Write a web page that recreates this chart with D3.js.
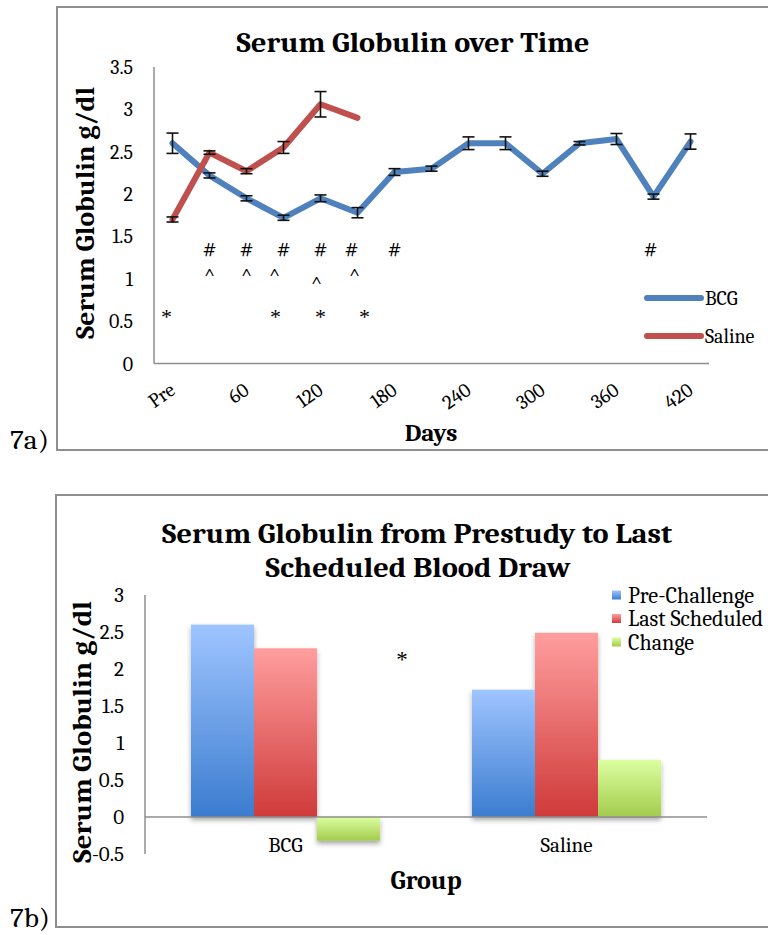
<!DOCTYPE html>
<html><head><meta charset="utf-8">
<script src="https://cdn.jsdelivr.net/npm/d3@7"></script>
<style>
html,body{margin:0;padding:0;background:#fff;}
svg{display:block;}
</style></head>
<body>
<svg id="c" width="768" height="935"></svg>
<script>
// ---------- Data: Figure 7a ----------
const days = ["Pre","30","60","90","120","150","180","210","240","270","300","330","360","390","420"];
const dayTickLabels = ["Pre","60","120","180","240","300","360","420"];
const bcgMean = [2.6,2.22,1.95,1.72,1.95,1.78,2.26,2.3,2.6,2.6,2.24,2.6,2.65,1.97,2.62];
const bcgErr  = [0.12,0.03,0.03,0.03,0.04,0.06,0.04,0.03,0.075,0.075,0.03,0.02,0.065,0.03,0.09];
const salineMean = [1.7,2.49,2.27,2.55,3.06,2.9];
const salineErr  = [0.03,0.02,0.03,0.07,0.15,0];
const yTicksA = [0,0.5,1,1.5,2,2.5,3,3.5];
const hashDays  = ["30","60","90","120","150","180","390"];
const caretDays = ["30","60","90","120","150"];
const starDays  = ["Pre","90","120","150"];

// ---------- Data: Figure 7b ----------
const groups = ["BCG","Saline"];
const barSeries = ["Pre-Challenge","Last Scheduled","Change"];
const preChallenge = [2.6,1.72];
const lastScheduled = [2.28,2.49];
const changeVals = [-0.32,0.77];
const yTicksB = [-0.5,0,0.5,1,1.5,2,2.5,3];

const FONT = "Cambria, Caladea, 'Liberation Serif', serif";
const STARFONT = "'Liberation Serif', serif";
const svg = d3.select("#c").attr("font-family",FONT);
const gray = "#8e8e8e";
const BLUE = "#4f81bd", RED = "#c0504d";

// ---------- Frames ----------
svg.append("path").attr("d","M800,7 H57 V450 H800").attr("fill","none").attr("stroke",gray).attr("stroke-width",2);
svg.append("path").attr("d","M800,495 H56 V927 H800").attr("fill","none").attr("stroke",gray).attr("stroke-width",2);
svg.append("text").attr("x",10).attr("y",449).attr("font-size",26)
  .attr("textLength",39).attr("lengthAdjust","spacingAndGlyphs").text("7a)");
svg.append("text").attr("x",10).attr("y",927).attr("font-size",26)
  .attr("textLength",40).attr("lengthAdjust","spacingAndGlyphs").text("7b)");

// ================= Chart A =================
const xA = d3.scalePoint().domain(days).range([154,709]).padding(0.5);
const yA = d3.scaleLinear().domain([0,3.5]).range([363.5,67]);

svg.append("text").attr("x",413).attr("y",52).attr("text-anchor","middle")
  .attr("font-size",28).attr("font-weight","bold")
  .attr("textLength",353).attr("lengthAdjust","spacingAndGlyphs").text("Serum Globulin over Time");

const gA = svg.append("g");
gA.append("line").attr("x1",154).attr("x2",154).attr("y1",yA(3.5)).attr("y2",yA(0)).attr("stroke",gray).attr("stroke-width",1.5);
gA.append("line").attr("x1",154).attr("x2",709).attr("y1",yA(0)).attr("y2",yA(0)).attr("stroke",gray).attr("stroke-width",1.5);
gA.selectAll("text.yt").data(yTicksA).join("text").attr("class","yt")
  .attr("x",133).attr("y",d=>yA(d)).attr("dy","0.35em").attr("text-anchor","end")
  .attr("font-size",20).text(d=>d);
gA.selectAll("text.xt").data(dayTickLabels).join("text").attr("class","xt")
  .attr("transform",d=>`translate(${xA(d)+4},393) rotate(-35)`)
  .attr("text-anchor","end").attr("font-size",20).text(d=>d);
svg.append("text").attr("x",431).attr("y",441).attr("text-anchor","middle")
  .attr("font-size",25).attr("font-weight","bold").text("Days");
svg.append("text").attr("transform","translate(94,213) rotate(-90)").attr("text-anchor","middle")
  .attr("font-size",26).attr("font-weight","bold")
  .attr("textLength",252).attr("lengthAdjust","spacingAndGlyphs").text("Serum Globulin g/dl");

const lineA = d3.line().x((d,i)=>xA(days[i])).y(d=>yA(d));
svg.append("path").datum(bcgMean).attr("d",lineA).attr("fill","none").attr("stroke",BLUE)
  .attr("stroke-width",6).attr("stroke-linejoin","round").attr("stroke-linecap","round");
svg.append("path").datum(salineMean).attr("d",lineA).attr("fill","none").attr("stroke",RED)
  .attr("stroke-width",6).attr("stroke-linejoin","round").attr("stroke-linecap","round");

function errBars(means, errs){
  const g = svg.append("g").attr("stroke","#111").attr("stroke-width",1.6);
  means.forEach((m,i)=>{
    const e = errs[i]; if(!e) return;
    const x = xA(days[i]);
    g.append("line").attr("x1",x).attr("x2",x).attr("y1",yA(m+e)).attr("y2",yA(m-e));
    g.append("line").attr("x1",x-6).attr("x2",x+6).attr("y1",yA(m+e)).attr("y2",yA(m+e));
    g.append("line").attr("x1",x-6).attr("x2",x+6).attr("y1",yA(m-e)).attr("y2",yA(m-e));
  });
}
errBars(bcgMean,bcgErr);
errBars(salineMean,salineErr);

const hashDx = [0,0,0,0,-6,0,-3];
svg.selectAll("text.hash").data(hashDays).join("text").attr("class","hash")
  .attr("x",(d,i)=>xA(d)+hashDx[i]).attr("y",yA(1.36)).attr("dy","0.35em")
  .attr("text-anchor","middle").attr("font-size",23).text("#");
const caretDx = [0,0,-9,-4,-3];
const caretVal = [1.08,1.08,1.08,0.99,1.08];
svg.selectAll("text.caret").data(caretDays).join("text").attr("class","caret")
  .attr("x",(d,i)=>xA(d)+caretDx[i]).attr("y",(d,i)=>yA(caretVal[i])).attr("dy","0.55em")
  .attr("text-anchor","middle").attr("font-size",20).text("^");
const starDx = [-6,-8,0,7];
svg.selectAll("text.star").data(starDays).join("text").attr("class","star")
  .attr("x",(d,i)=>xA(d)+starDx[i]).attr("y",yA(0.62)).attr("dy","0.6em")
  .attr("text-anchor","middle").attr("font-family",STARFONT).attr("font-size",22).text("*");

const legA = [{n:"BCG",c:BLUE},{n:"Saline",c:RED}];
legA.forEach((d,i)=>{
  const y = 298 + i*38;
  svg.append("line").attr("x1",647).attr("x2",701).attr("y1",y).attr("y2",y)
    .attr("stroke",d.c).attr("stroke-width",6).attr("stroke-linecap","round");
  svg.append("text").attr("x",705).attr("y",y).attr("dy","0.35em").attr("font-size",20).text(d.n);
});

// ================= Chart B =================
const defs = svg.append("defs");
const grads = [
  {id:"gB", top:"#9fc5ff", bot:"#3b7ccf"},
  {id:"gR", top:"#ff9e9e", bot:"#cf3a3a"},
  {id:"gG", top:"#dcffa0", bot:"#a3cb4c"}
];
grads.forEach(g=>{
  const lg = defs.append("linearGradient").attr("id",g.id).attr("x1",0).attr("y1",0).attr("x2",0).attr("y2",1);
  lg.append("stop").attr("offset","0%").attr("stop-color",g.top);
  lg.append("stop").attr("offset","100%").attr("stop-color",g.bot);
});
const f = defs.append("filter").attr("id","sh").attr("x","-20%").attr("y","-20%").attr("width","140%").attr("height","150%");
f.append("feDropShadow").attr("dx",0).attr("dy",3).attr("stdDeviation",2.5).attr("flood-color","#000").attr("flood-opacity",0.35);

svg.append("text").attr("x",417).attr("y",543).attr("text-anchor","middle")
  .attr("font-size",29).attr("font-weight","bold")
  .attr("textLength",510).attr("lengthAdjust","spacingAndGlyphs").text("Serum Globulin from Prestudy to Last");
svg.append("text").attr("x",418).attr("y",577).attr("text-anchor","middle")
  .attr("font-size",29).attr("font-weight","bold")
  .attr("textLength",305).attr("lengthAdjust","spacingAndGlyphs").text("Scheduled Blood Draw");

const x0 = d3.scaleBand().domain(groups).range([145,707]).paddingInner(0.327).paddingOuter(0.1635);
const x1 = d3.scaleBand().domain(barSeries).range([0,x0.bandwidth()]);
const yB = d3.scaleLinear().domain([-0.5,3]).range([854,595]);

const valsB = [preChallenge,lastScheduled,changeVals];
const fills = ["url(#gB)","url(#gR)","url(#gG)"];
const barG = svg.append("g").attr("filter","url(#sh)");
groups.forEach((grp,gi)=>{
  barSeries.forEach((s,si)=>{
    const v = valsB[si][gi];
    barG.append("rect").attr("x",x0(grp)+x1(s)).attr("width",x1.bandwidth())
      .attr("y",yB(Math.max(0,v))).attr("height",Math.abs(yB(v)-yB(0)))
      .attr("fill",fills[si]);
  });
});

svg.append("line").attr("x1",145).attr("x2",145).attr("y1",yB(3)).attr("y2",yB(-0.5)).attr("stroke",gray).attr("stroke-width",1.5);
svg.append("line").attr("x1",145).attr("x2",707).attr("y1",yB(0)).attr("y2",yB(0)).attr("stroke",gray).attr("stroke-width",1.5);
svg.selectAll("text.ytb").data(yTicksB).join("text").attr("class","ytb")
  .attr("x",124).attr("y",d=>yB(d)).attr("dy","0.35em").attr("text-anchor","end")
  .attr("font-size",21).text(d=>d);
svg.selectAll("text.xtb").data(groups).join("text").attr("class","xtb")
  .attr("x",d=>x0(d)+x0.bandwidth()/2).attr("y",852).attr("text-anchor","middle")
  .attr("font-size",21).text(d=>d);
svg.append("text").attr("x",426).attr("y",889).attr("text-anchor","middle")
  .attr("font-size",26).attr("font-weight","bold").text("Group");
svg.append("text").attr("transform","translate(91,732) rotate(-90)").attr("text-anchor","middle")
  .attr("font-size",26).attr("font-weight","bold")
  .attr("textLength",262).attr("lengthAdjust","spacingAndGlyphs").text("Serum Globulin g/dl");
svg.append("text").attr("x",402).attr("y",653).attr("dy","0.6em").attr("text-anchor","middle")
  .attr("font-family",STARFONT).attr("font-size",23).text("*");

const legLen = [126,135,66];
barSeries.forEach((s,i)=>{
  const y = 595 + i*23.5;
  svg.append("rect").attr("x",612).attr("y",y-4.5).attr("width",9).attr("height",9).attr("fill",fills[i]);
  svg.append("text").attr("x",628).attr("y",y).attr("dy","0.35em").attr("font-size",22)
    .attr("textLength",legLen[i]).attr("lengthAdjust","spacingAndGlyphs").text(s);
});
</script>
</body></html>
